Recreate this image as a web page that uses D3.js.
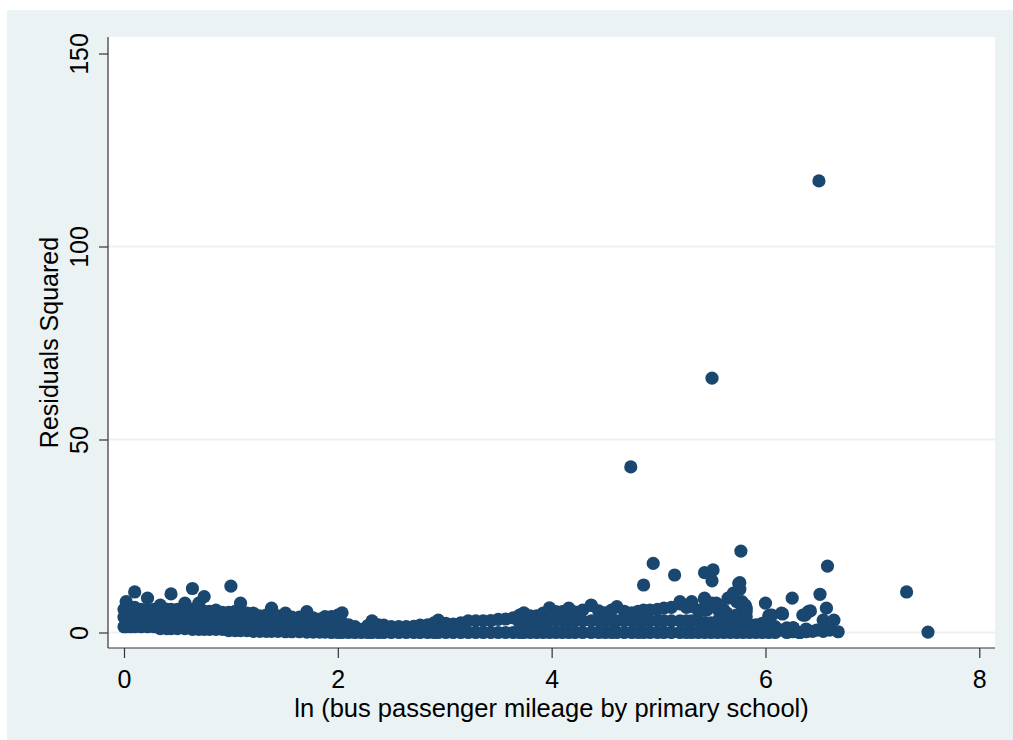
<!DOCTYPE html>
<html>
<head>
<meta charset="utf-8">
<script src="https://cdn.jsdelivr.net/npm/d3@7"></script>
<style>
body{margin:0;background:#fff;}
text{font-family:"Liberation Sans",Arial,sans-serif;}
</style>
</head>
<body>
<div id="chart-area"></div>
<script>
var xTicks=[0,2,4,6,8];
var yTicks=[0,50,100,150];
var gridTicks=[0,50,100];
var xTitle="ln (bus passenger mileage by primary school)";
var yTitle="Residuals Squared";

// dense band near zero: [x, residual^2 values in that column...]
var bandLeft=[
    [0.00,1.5,4,6],[0.02,1.5,4,6.5,8],[0.06,1.5,4,6.5],[0.10,1.5,4,6.5,10.5],[0.16,1.5,4,6],
    [0.22,1.5,4,6,8.9],[0.28,1.5,4,6],[0.34,1,3.5,6,7.1],[0.40,1,3.5,6],[0.44,1,3.5,6,10],
    [0.50,1,3.5,6],[0.57,1,3.5,6,7.6],[0.64,0.8,3.5,6,11.4],[0.70,0.8,3.5,6,7.6],[0.75,0.8,3.5,5.5,9.3],
    [0.80,0.8,3,5.5],[0.86,0.8,3,5.8],[0.92,0.8,3,5.2],[0.98,0.5,3,5.2],[1.04,0.5,3,5.5],
    [1.09,0.5,3,5.5,7.6],[1.15,0.5,3,5],[1.21,0.3,2.5,5],[1.27,0.3,2.5,4.3],[1.33,0.3,2.5,4.5],
    [1.38,0.3,2.5,6.3],[1.44,0.3,2.5,4.3],[1.51,0.2,2.5,5],[1.57,0.2,2.3,4],[1.64,0.2,2.3,4],
    [1.71,0.1,2.5,5.4],[1.77,0.1,2,3.8],[1.83,0.1,2,3.5],[1.88,0.1,2,4.1],[1.94,0,2,4.1],
    [2.00,0,2.5,4.5],[2.04,0,2.5,5.1]
];
var bandMid=[
    [2.10,0,2],[2.16,0,1.5],[2.22,0,0.8],[2.28,0,1.8],[2.32,0,3],[2.38,0,2],[2.43,0,1.9],
    [2.50,0,1.5],[2.57,0,1.5],[2.64,0,1.5],[2.71,0,1.6],[2.77,0,1.9],[2.84,0,2],[2.90,0,2.5],
    [2.94,0,3.2],[3.01,0,2.4],[3.08,0,2.2],[3.15,0,2.5],[3.22,0,3],[3.29,0,3],[3.36,0,3],
    [3.43,0,3.1],[3.50,0,3.4],[3.57,0,3.5],[3.64,0,3.8],[3.70,0,2.5,4.5],[3.74,0,2.5,5.1],
    [3.80,0,2.5,4.3],[3.86,0,2.5,4.3],[3.92,0,2.5,5],[3.98,0,3,6.4]
];
var bandRight=[
    [4.04,0,3,5.4],[4.10,0,3,5.4],[4.16,0,3,5.6],[4.22,0,3,5.3],[4.29,0,3,5.8],[4.37,0,3,7],
    [4.44,0,3,5.6],[4.50,0,3,5.1],[4.56,0,3,5.8],[4.61,0,3,6.7],[4.68,0,3,5.5],[4.75,0,3,5.1],
    [4.81,0,3,5.5],[4.86,0,3,5.8],[4.92,0,3,5.8],[4.99,0,3,6],[5.05,0,3,6.3],[5.12,0,3,6.5],
    [5.20,0,3,7.4],[5.26,0,3,6.5],[5.31,0,3,7.1],[5.37,0,3,5.8],[5.43,0,2.5,5.8],[5.49,0,2.5],
    [5.55,0,2.5],[5.61,0,2.5,5.8],[5.67,0,2.5],[5.73,0,2.5,4.5],[5.79,0,2.5],[5.85,0,2],
    [5.91,0,2],[5.97,0,2.4],[6.03,0,2.4,4.3],[6.09,0,1.5],[6.14,0.6],[6.20,0,1.2],
    [6.26,0.2,1.2],[6.32,0],[6.38,0.2,0.9],[6.44,0.3],[6.48,0.6],[6.54,0.3,3.2],[6.60,0.6],
    [6.64,3.2],[6.68,0.2]
];
// scattered points above the band, [x, y]
var scatterPts=[
    [1.00,12.0],[5.43,15.5],[5.51,16.2],[5.50,13.4],[5.76,12.9],[5.76,11.2],[5.68,9.3],[5.43,8.6],
    [5.54,7.6],[5.78,8.0],[5.82,6.3],[5.20,8.0],[5.31,8.0],[6.00,7.6],[6.25,8.9],[6.51,9.9],
    [6.58,17.2],[6.57,6.3],[6.40,5.4],[6.35,4.5],[6.15,5.0],[6.04,4.5],[5.82,4.1],[5.73,4.5],
    [5.61,5.8],[5.45,5.8],[5.29,6.7],[5.56,7.1],[5.64,5.0],[5.73,8.0],[5.81,7.1],[5.56,3.2],
    [6.06,4.5],[6.16,4.8],[6.37,4.5],[6.42,5.6],[6.01,2.4],[6.10,0.6],[6.26,1.2],[6.32,0],
    [5.43,8.9],[5.50,7.6],[5.56,5.8],[5.61,4.1],[5.65,8.9],[5.70,10.2],[5.75,12.7],[5.78,7.1],
    [5.82,5.4],[4.37,7.1],[4.16,6.3]
];
var outliers=[
    [6.50,117.0],[5.50,65.9],[4.74,42.9],[4.95,17.9],[5.77,21.1],[5.15,14.9],[4.86,12.3],
    [7.32,10.5],[7.52,0.1]
];

var width=1013, height=740;
var plot={left:108,right:995,top:37,bottom:648};

var svg=d3.select("#chart-area").append("svg")
    .attr("width",width)
    .attr("height",height);

svg.append("rect")
    .attr("x",7).attr("y",10)
    .attr("width",width-7).attr("height",height-10)
    .attr("fill","#eaf2f3");

svg.append("rect")
    .attr("x",plot.left).attr("y",plot.top)
    .attr("width",plot.right-plot.left).attr("height",plot.bottom-plot.top)
    .attr("fill","#ffffff");

var x=d3.scaleLinear().domain([0,8]).range([124,979.3]);
var y=d3.scaleLinear().domain([0,150]).range([632.5,53.5]);

svg.selectAll(".grid")
    .data(gridTicks)
    .enter().append("line")
    .attr("class","grid")
    .attr("x1",plot.left+1).attr("x2",plot.right)
    .attr("y1",(d)=>y(d)).attr("y2",(d)=>y(d))
    .attr("stroke","#eaf2f3")
    .attr("stroke-width",2);

var pts=[];
[bandLeft,bandMid,bandRight].forEach((cols)=>{
    cols.forEach((c)=>{
        c.slice(1).forEach((v)=>{pts.push([c[0],v]);});
    });
});
pts=pts.concat(scatterPts,outliers);

svg.append("g")
    .selectAll("circle")
    .data(pts)
    .enter().append("circle")
    .attr("cx",(d)=>x(d[0]))
    .attr("cy",(d)=>y(d[1]))
    .attr("r",6.6)
    .attr("fill","#1a476f");

// x axis
var xAxisGroup=svg.append("g")
    .attr("transform","translate(0,"+plot.bottom+")")
    .call(d3.axisBottom(x).tickValues(xTicks).tickSize(10).tickSizeOuter(0));
xAxisGroup.select(".domain").remove();
xAxisGroup.selectAll("line").attr("stroke","#333").attr("stroke-width",1.2);
xAxisGroup.selectAll("text")
    .attr("y",39.5).attr("dy",0)
    .attr("font-size","25px")
    .attr("fill","#000");
xAxisGroup.append("line")
    .attr("x1",plot.left).attr("x2",plot.right)
    .attr("y1",0).attr("y2",0)
    .attr("stroke","#333").attr("stroke-width",1.2);

// y axis
var yAxisGroup=svg.append("g")
    .attr("transform","translate("+plot.left+",0)")
    .call(d3.axisLeft(y).tickValues(yTicks).tickSize(9).tickSizeOuter(0));
yAxisGroup.select(".domain").remove();
yAxisGroup.selectAll("line").attr("stroke","#333").attr("stroke-width",1.2);
yAxisGroup.selectAll("text")
    .attr("transform","rotate(-90)")
    .attr("x",0).attr("y",-20).attr("dy",0)
    .attr("text-anchor","middle")
    .attr("font-size","25px")
    .attr("fill","#000");
yAxisGroup.append("line")
    .attr("x1",0).attr("x2",0)
    .attr("y1",plot.top).attr("y2",plot.bottom)
    .attr("stroke","#333").attr("stroke-width",1.2);

svg.append("text")
    .attr("x",(plot.left+plot.right)/2)
    .attr("y",717)
    .attr("text-anchor","middle")
    .attr("font-size","25.5px")
    .attr("fill","#000")
    .text(xTitle);

svg.append("text")
    .attr("transform","translate(58,"+((plot.top+plot.bottom)/2)+") rotate(-90)")
    .attr("text-anchor","middle")
    .attr("font-size","25px")
    .attr("fill","#000")
    .text(yTitle);
</script>
</body>
</html>
